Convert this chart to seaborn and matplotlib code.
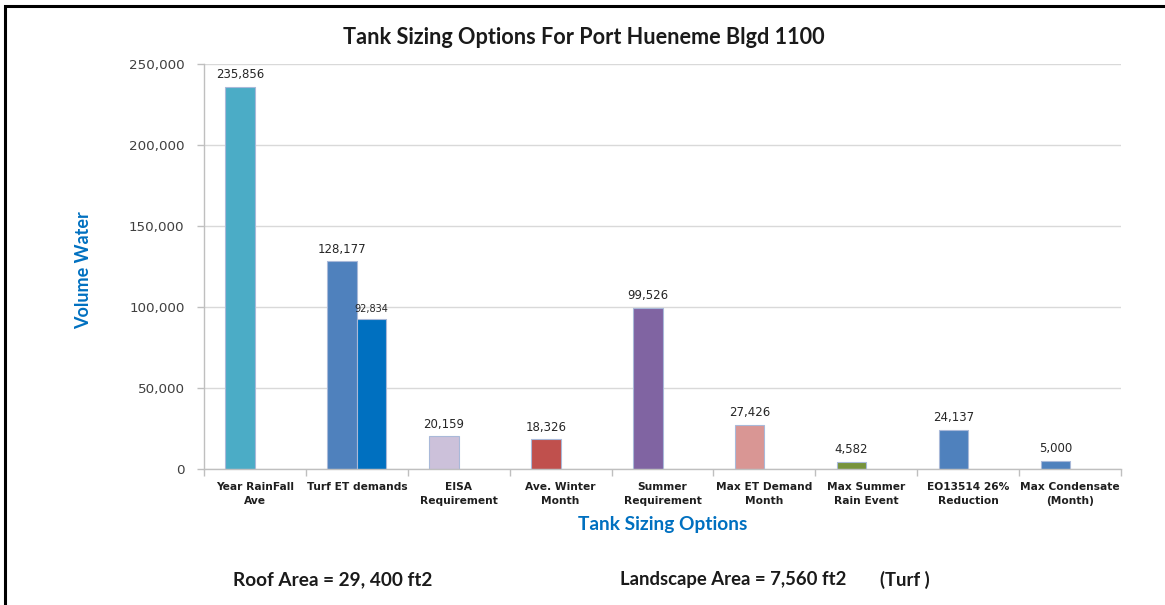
import matplotlib
matplotlib.use("Agg")
import matplotlib.pyplot as plt
import seaborn as sns
import pandas as pd
from matplotlib.ticker import FuncFormatter
from matplotlib.patches import Rectangle

# ---- chart data -------------------------------------------------------------
categories = [
    "Year RainFall\nAve", "Turf ET demands", "EISA\nRequirement",
    "Ave. Winter\nMonth", "Summer\nRequirement", "Max ET Demand\nMonth",
    "Max Summer\nRain Event", "EO13514 26%\nReduction", "Max Condensate\n(Month)",
]
primary_values = [235856, 128177, 20159, 18326, 99526, 27426, 4582, 24137, 5000]
primary_colors = ["#4BACC6", "#4F81BD", "#CCC1DA", "#C0504D", "#8064A2",
                  "#D99694", "#77933C", "#4F81BD", "#4F81BD"]
secondary_category = "Turf ET demands"
secondary_value = 92834
secondary_color = "#0070C0"
y_ticks = [0, 50000, 100000, 150000, 200000, 250000]

title = "Tank Sizing Options For Port Hueneme Blgd 1100"
roof_note = "Roof Area = 29, 400 ft2"
landscape_note = "Landscape Area = 7,560 ft2"
landscape_type = "(Turf )"

# ---- styling ----------------------------------------------------------------
sns.set_theme(style="white")
plt.rcParams["font.family"] = ["DejaVu Sans"]
HEAD_FONT = ["Lato", "DejaVu Sans"]
AXIS_GREY = "#BFBFBF"
GRID_GREY = "#D9D9D9"
LABEL_BLUE = "#0070C0"
TEXT_DARK = "#1A1A1A"

df = pd.DataFrame({
    "option": categories + [secondary_category],
    "volume": primary_values + [secondary_value],
    "series": ["primary"] * len(categories) + ["secondary"],
})

W, H = 1165, 605
fig = plt.figure(figsize=(W / 100, H / 100), dpi=100)
fig.patch.set_facecolor("white")
ax = fig.add_axes([204 / W, 1 - 469 / H, (1121 - 204) / W, (469 - 64) / H])

sns.barplot(data=df, x="option", y="volume", hue="series",
            order=categories, hue_order=["primary", "secondary"],
            width=0.58, gap=0, dodge=True, errorbar=None, saturation=1,
            legend=False, ax=ax)

# colour each bar individually
prim, sec = ax.containers[0], ax.containers[1]
for patch, col in zip(prim.patches, primary_colors):
    patch.set_facecolor(col)
    patch.set_edgecolor("#A9B9D9")
    patch.set_linewidth(0.8)
for patch in sec.patches:
    patch.set_facecolor(secondary_color)
    patch.set_edgecolor("#A9B9D9")
    patch.set_linewidth(0.8)

ax.bar_label(prim, labels=[f"{v:,}" for v in primary_values], padding=4,
             fontsize=8.5, color="#262626")
ax.bar_label(sec, labels=[f"{secondary_value:,}"], padding=3,
             fontsize=7, color="#262626")

# ---- axes -------------------------------------------------------------------
ax.set_xlim(-0.5, len(categories) - 0.5)
ax.set_ylim(0, 250000)
ax.set_yticks(y_ticks)
ax.yaxis.set_major_formatter(FuncFormatter(lambda v, _: f"{int(v):,}"))
ax.grid(axis="y", color=GRID_GREY, linewidth=1)
ax.set_axisbelow(True)

ax.set_xticks(range(len(categories)))
ax.set_xticklabels(categories, fontsize=7.7, fontweight="bold",
                   color="#1F1F1F", linespacing=1.55)
ax.set_xticks([i - 0.5 for i in range(len(categories) + 1)], minor=True)
ax.tick_params(axis="x", which="major", length=0, pad=9)
ax.tick_params(axis="x", which="minor", length=5, width=1,
               color=AXIS_GREY, direction="out")
ax.tick_params(axis="y", length=5, width=1, color=AXIS_GREY,
               direction="out", labelsize=9.7, labelcolor="#404040", pad=9)
ax.tick_params(bottom=True, left=True, which="both")

for side in ("top", "right"):
    ax.spines[side].set_visible(False)
for side in ("left", "bottom"):
    ax.spines[side].set_color(AXIS_GREY)
    ax.spines[side].set_linewidth(1)

ax.set_xlabel("Tank Sizing Options", color=LABEL_BLUE, fontweight="bold",
              fontsize=13.8, family=HEAD_FONT)
ax.xaxis.set_label_coords(0.5, -0.117)
ax.set_ylabel("Volume Water", color=LABEL_BLUE, fontweight="bold",
              fontsize=13, family=HEAD_FONT)
ax.yaxis.set_label_coords(-0.122, 0.49)

# ---- figure texts -----------------------------------------------------------
fig.text(584 / W, 1 - 37 / H, title, ha="center", va="center",
         fontsize=15.6, fontweight="bold", color=TEXT_DARK, family=HEAD_FONT)
fig.text(233 / W, 1 - 580 / H, roof_note, ha="left", va="center",
         fontsize=13.7, fontweight="bold", color=TEXT_DARK, family=HEAD_FONT)
fig.text(620 / W, 1 - 580 / H, landscape_note, ha="left", va="center",
         fontsize=13.3, fontweight="bold", color=TEXT_DARK, family=HEAD_FONT)
fig.text(880 / W, 1 - 580 / H, landscape_type, ha="left", va="center",
         fontsize=13.3, fontweight="bold", color=TEXT_DARK, family=HEAD_FONT)

# outer frame (runs off the right and bottom edges)
fig.add_artist(Rectangle((4.5 / W, -0.5), 2.0, 1.5 - 6.5 / H,
                         transform=fig.transFigure, fill=False,
                         edgecolor="black", linewidth=2.2))

fig.savefig("out.png", dpi=100, facecolor="white")
